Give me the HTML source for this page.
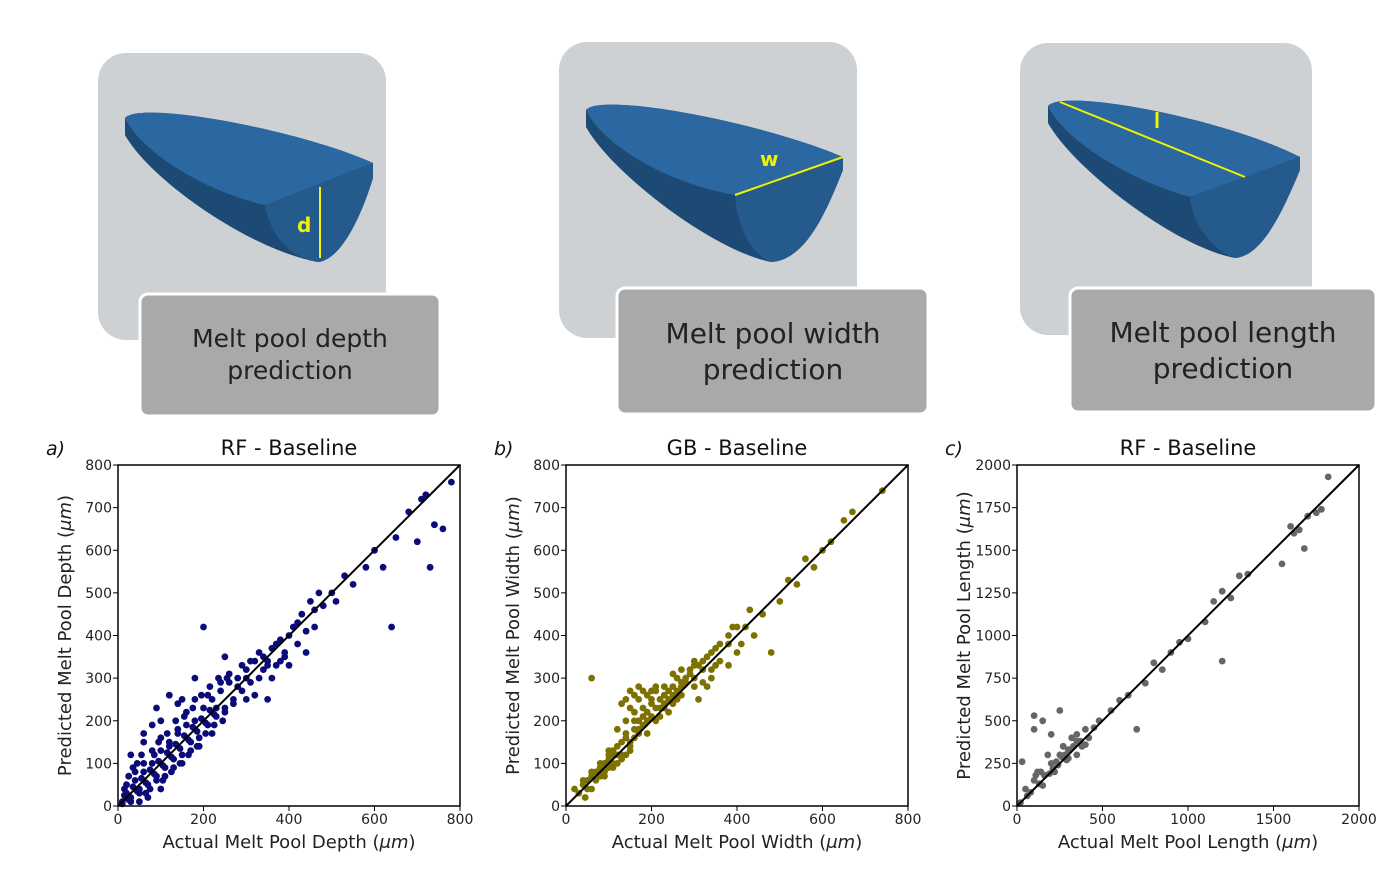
<!DOCTYPE html>
<html><head><meta charset="utf-8"><style>
body{margin:0;background:#fff;width:1400px;height:888px;overflow:hidden;font-family:"Liberation Sans","DejaVu Sans",sans-serif}
svg text{font-family:"DejaVu Sans","Liberation Sans",sans-serif}
</style></head><body>
<svg id="fig" width="1400" height="888" viewBox="0 0 1400 888" xmlns="http://www.w3.org/2000/svg">
<g>
<rect x="98" y="53" width="288" height="287" rx="28" fill="#cdd1d3"/>
<g>
<path d="M125,118 C140,100 300,130 373,163 L373,178 C360,220 340,260 318,262 C250,250 150,180 125,135 Z" fill="#1d4a75"/>
<path d="M125,118 C140,100 300,130 373,163 L265,205 C200,190 140,150 125,118 Z" fill="#2b67a0"/>
<path d="M265,205 L373,163 L373,178 C360,220 340,260 318,262 C290,258 270,235 265,205 Z" fill="#245a8c"/>
</g>
<line x1="320" y1="187" x2="320" y2="258" stroke="#f2f200" stroke-width="2"/>
<text x="297" y="232" fill="#f2f200" font-size="20" font-weight="bold">d</text>
<rect x="140" y="294" width="300" height="122" rx="8" fill="#a9a9a9" stroke="#fff" stroke-width="3"/>
<text x="290" y="347" text-anchor="middle" font-size="25" fill="#222">Melt pool depth</text>
<text x="290" y="379" text-anchor="middle" font-size="25" fill="#222">prediction</text>
</g>
<g>
<rect x="559" y="42" width="298" height="296" rx="28" fill="#cdd1d3"/>
<g transform="translate(461,-8)">
<path d="M125,118 C140,100 300,130 382,165 L382,178 C365,220 345,268 310,270 C250,258 150,180 125,135 Z" fill="#1d4a75"/>
<path d="M125,118 C140,100 300,130 382,165 L274,203 C200,190 140,150 125,118 Z" fill="#2b67a0"/>
<path d="M274,203 L382,165 L382,178 C365,220 345,268 310,270 C290,262 276,235 274,203 Z" fill="#245a8c"/>
</g>
<line x1="735" y1="195" x2="843" y2="157" stroke="#f2f200" stroke-width="2"/>
<text x="760" y="166" fill="#f2f200" font-size="20" font-weight="bold">w</text>
<rect x="617" y="288" width="311" height="126" rx="8" fill="#a9a9a9" stroke="#fff" stroke-width="3"/>
<text x="773" y="343" text-anchor="middle" font-size="28" fill="#222">Melt pool width</text>
<text x="773" y="379" text-anchor="middle" font-size="28" fill="#222">prediction</text>
</g>
<g>
<rect x="1020" y="43" width="292" height="292" rx="28" fill="#cdd1d3"/>
<g transform="translate(923,-12)">
<path d="M125,118 C140,100 300,130 377,169 L377,182 C360,222 340,268 312,270 C250,258 150,180 125,135 Z" fill="#1d4a75"/>
<path d="M125,118 C140,100 300,130 377,169 L267,209 C200,190 140,150 125,118 Z" fill="#2b67a0"/>
<path d="M267,209 L377,169 L377,182 C360,222 340,268 312,270 C290,262 270,238 267,209 Z" fill="#245a8c"/>
</g>
<line x1="1060" y1="102" x2="1245" y2="177" stroke="#f2f200" stroke-width="2"/>
<line x1="1157" y1="112" x2="1157" y2="128" stroke="#f2f200" stroke-width="3"/>
<rect x="1070" y="288" width="306" height="124" rx="8" fill="#a9a9a9" stroke="#fff" stroke-width="3"/>
<text x="1223" y="342" text-anchor="middle" font-size="28" fill="#222">Melt pool length</text>
<text x="1223" y="378" text-anchor="middle" font-size="28" fill="#222">prediction</text>
</g>
<g id="plots"></g>
</svg>
<script>
const depthActual=[20,30,40,50,60,70,80,90,100,110,120,130,140,150,160,170,180,190,200,210,220,230,240,250,260,270,280,290,300,310,320,330,340,350,360,370,380,390,400,410,420,430,440,450,460,470,480,500,510,530,550,580,600,620,640,650,680,700,710,720,730,740,760,780,200,120,80,60,150,250,300,350,100,50,10,15,25,35,45,55,65,75,85,95,105,115,125,135,145,155,165,175,185,195,205,215,225,235,245,255,
10,20,30,40,50,60,70,80,90,100,110,120,130,140,150,160,170,180,190,210,220,230,240,250,260,270,280,290,300,310,320,330,340,350,360,370,380,390,400,420,440,460,15,25,35,45,55,65,75,85,95,105,115,125,135,145,155,165,175,185,195,205,215,225,100,140,60,180,30,90];
const depthPred=[30,20,60,40,80,50,100,70,130,90,150,110,170,120,190,150,200,160,230,190,250,210,270,230,290,250,300,270,320,290,340,300,350,330,300,380,340,360,330,420,380,450,360,480,420,500,470,500,480,540,520,560,600,560,420,630,690,620,720,730,560,660,650,760,420,260,190,150,250,350,250,250,40,10,10,40,70,90,100,120,30,40,120,150,60,170,80,200,100,210,120,230,140,260,170,280,190,300,200,300,
5,50,10,80,30,100,20,130,60,160,70,140,90,180,100,220,130,250,140,260,170,230,290,220,310,240,280,330,300,340,260,360,320,340,370,330,390,350,400,430,410,460,25,15,45,35,65,55,85,75,105,95,125,115,145,135,165,155,185,175,205,195,225,215,200,240,170,300,120,230];
const widthActual=[20,30,40,50,60,60,70,80,90,100,110,120,130,140,150,160,170,180,190,200,210,220,230,240,250,260,270,280,290,300,310,320,330,340,350,360,380,400,420,430,440,460,480,500,520,540,560,580,600,620,650,670,740,140,150,160,170,180,200,120,100,110,130,140,150,160,170,180,190,210,220,230,240,250,260,270,300,310,330,350,380,390,410,60,45,80,90,100,
40,50,60,70,80,90,100,110,120,130,140,150,160,170,180,190,200,210,220,230,240,250,260,270,280,290,300,320,340,360,380,400,150,160,130,140,170,200,120,110,100,90,80,70,190,210,230,250,270,300,320,340];
const widthPred=[40,30,50,60,300,70,80,90,100,110,120,100,150,170,130,200,180,230,200,250,270,230,260,250,280,300,260,300,320,340,330,290,350,320,370,340,380,360,420,460,400,450,360,480,530,520,580,560,600,620,670,690,740,200,230,220,250,270,270,180,130,90,110,120,150,160,170,190,170,200,210,230,220,240,250,290,300,250,280,330,330,420,380,40,20,70,80,100,
60,40,80,60,100,70,120,100,140,120,160,140,180,200,210,220,210,230,250,240,270,260,270,280,290,310,330,340,360,380,400,420,270,260,240,250,280,240,120,130,90,100,80,80,260,280,280,310,320,280,320,300];
const lengthActual=[50,80,100,120,150,180,200,220,250,270,300,320,350,380,400,100,100,150,30,200,250,280,300,350,350,550,600,650,700,750,800,850,900,950,1000,1100,1150,1200,1200,1250,1300,1350,1550,1600,1620,1650,1680,1700,1750,1780,1820,400,420,450,480,60,20,130,160,190,110,140,230,260,310,330,370,210,240,290];
const lengthPred=[100,80,150,200,120,300,250,200,300,350,280,400,380,350,450,450,530,500,260,420,560,300,330,300,420,560,620,650,450,720,840,800,900,960,980,1080,1200,1260,850,1220,1350,1360,1420,1640,1600,1620,1510,1700,1720,1740,1930,360,400,460,500,60,20,130,180,190,180,200,260,290,330,350,380,220,240,270];
const depthTicks=[0,100,200,300,400,500,600,700,800];
const depthXTicks=[0,200,400,600,800];
const lengthTicks=[0,250,500,750,1000,1250,1500,1750,2000];
const lengthXTicks=[0,500,1000,1500,2000];

const NS='http://www.w3.org/2000/svg';
const root=document.getElementById('plots');
function mk(tag,attrs,parent){const e=document.createElementNS(NS,tag);for(const k in attrs)e.setAttribute(k,attrs[k]);parent.appendChild(e);return e;}
function plot(cfg){
  const g=mk('g',{},root);
  
  
  const L=cfg.x0,T=465,W=342,H=341,mx=cfg.max;
  const sx=v=>L+v/mx*W, sy=v=>T+H-v/mx*H;
  for(let i=0;i<cfg.ax.length;i++){
    const c=mk('circle',{cx:sx(cfg.ax[i]).toFixed(1),cy:sy(cfg.pr[i]).toFixed(1),r:3.4,fill:cfg.color},g);
    
    
  }
  const d=mk('line',{x1:sx(0),y1:sy(0),x2:sx(mx),y2:sy(mx),stroke:'#000','stroke-width':2},g);
  
  
  const fr=mk('rect',{x:L,y:T,width:W,height:H,fill:'none',stroke:'#000','stroke-width':1.5},g);
  
  
  cfg.yt.forEach(v=>{mk('line',{x1:L-5,x2:L,y1:sy(v),y2:sy(v),stroke:'#000'},g);
    const t=mk('text',{x:L-6,y:sy(v)+5,'text-anchor':'end','font-size':14,fill:'#222'},g);t.textContent=v;
    
    });
  cfg.xt.forEach(v=>{mk('line',{x1:sx(v),x2:sx(v),y1:T+H,y2:T+H+5,stroke:'#000'},g);
    const t=mk('text',{x:sx(v),y:T+H+18,'text-anchor':'middle','font-size':14,fill:'#222'},g);t.textContent=v;
    
    });
  const ti=mk('text',{x:L+W/2,y:455,'text-anchor':'middle','font-size':21,fill:'#111'},g);ti.textContent=cfg.title;
  
  
  const pl=mk('text',{x:L-72,y:455,'font-size':19,'font-style':'italic',fill:'#111'},g);pl.textContent=cfg.panel;
  
  
  const xl=mk('text',{x:L+W/2,y:848,'text-anchor':'middle','font-size':18,fill:'#222'},g);
  xl.innerHTML='Actual Melt Pool '+cfg.q+' (<tspan font-style="italic">μm</tspan>)';
  
  
  const yl=mk('text',{x:0,y:0,'text-anchor':'middle','font-size':18,fill:'#222',transform:`translate(${L-47},${T+H/2}) rotate(-90)`},g);
  yl.innerHTML='Predicted Melt Pool '+cfg.q+' (<tspan font-style="italic">μm</tspan>)';
  
  
}
plot({name:'depth-scatter-chart',x0:118,max:800,ax:depthActual,pr:depthPred,color:'#0a0a78',yt:depthTicks,xt:depthXTicks,title:'RF - Baseline',panel:'a)',q:'Depth'});
plot({name:'width-scatter-chart',x0:566,max:800,ax:widthActual,pr:widthPred,color:'#7d7200',yt:depthTicks,xt:depthXTicks,title:'GB - Baseline',panel:'b)',q:'Width'});
plot({name:'length-scatter-chart',x0:1017,max:2000,ax:lengthActual,pr:lengthPred,color:'#666666',yt:lengthTicks,xt:lengthXTicks,title:'RF - Baseline',panel:'c)',q:'Length'});
</script>
</body></html>
